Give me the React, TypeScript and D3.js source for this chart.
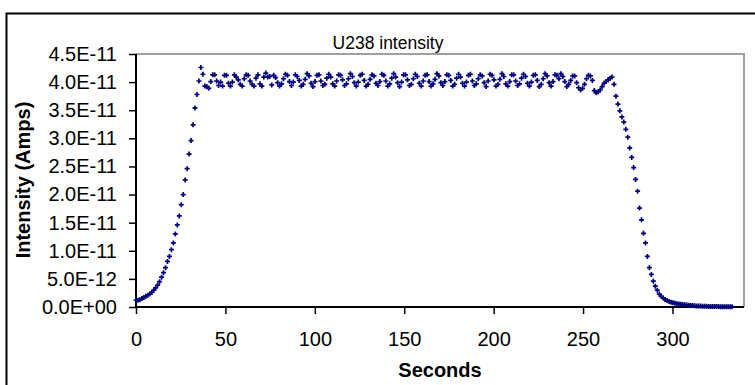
import React, { useEffect, useRef } from "react";
import * as d3 from "d3";

// U238 ion current, in units of 1E-12 A, one reading every SAMPLE_STEP seconds
const SAMPLE_STEP = 1.1;

const rampUp = [
  1.2, 1.2, 1.3, 1.5, 1.7, 1.9, 2.1, 2.3, 2.6, 3.0, 3.4, 3.9, 4.5, 5.3, 6.1,
  7.0, 8.1, 9.0, 10.2, 11.4, 13.0, 14.6, 16.2, 18.2, 20.0, 22.6, 24.6, 27.2,
  29.6, 32.4, 35.4, 37.8, 40.2, 42.6, 41.4,
];

const plateau = [
  39.3, 39.2, 38.9, 40.1, 41.3, 41.3, 40.2, 39.4, 40.0, 39.3, 41.2, 41.2, 39.8,
  39.3, 40.0, 41.3, 40.9, 40.4, 39.6, 39.3, 40.6, 41.3, 41.2, 40.2, 39.6, 39.3,
  40.7, 41.3, 39.7, 39.3, 40.9, 41.6, 40.9, 41.0, 39.5, 41.2,
  40.8, 39.9, 39.3, 39.7, 40.6, 41.4, 41.2, 40.1, 39.4, 40.0, 41.3,
  41.0, 40.3, 39.3, 39.6, 40.5, 41.5, 41.1, 39.8, 39.2, 40.1, 41.2,
  41.3, 40.2, 39.4, 39.6, 40.7, 41.4, 40.9, 39.7, 39.3, 40.2, 41.3,
  41.2, 40.4, 39.4, 39.7, 40.6, 41.5, 41.0, 39.9, 39.3, 40.0, 41.2,
  41.4, 40.3, 39.3, 39.6, 40.5, 41.3, 41.1, 39.8, 39.4, 40.1, 41.4,
  41.2, 40.2, 39.3, 39.7, 40.7, 41.5, 40.9, 39.9, 39.2, 40.0, 41.3,
  41.3, 40.4, 39.4, 39.6, 40.6, 41.4, 41.0, 39.8, 39.3, 40.2, 41.2,
  41.3, 40.1, 39.3, 39.7, 40.5, 41.5, 41.1, 39.9, 39.4, 40.1, 41.3,
  41.2, 40.3, 39.3, 39.6, 40.7, 41.4, 40.9, 39.8, 39.3, 40.0, 41.2,
  41.4, 40.2, 39.4, 39.7, 40.6, 41.3, 41.1, 39.9, 39.2, 40.2, 41.4,
  41.2, 40.4, 39.3, 39.6, 40.5, 41.5, 41.0, 39.7, 39.3, 40.1, 41.3,
  41.3, 40.2, 39.4, 39.7, 40.7, 41.4, 41.0, 39.8, 39.3, 40.0, 41.2,
  41.3, 40.3, 39.2, 39.6, 40.6, 41.5, 41.1, 39.9, 39.3, 40.1, 41.3,
  41.2, 40.6,
  41.5, 41.0, 40.1, 39.2, 39.6, 40.3, 41.1, 41.1, 39.9, 39.0, 38.6, 38.9, 39.6,
  40.6, 41.2, 41.1, 40.3, 38.5, 38.1, 38.3, 38.6, 39.2, 39.8, 40.1, 40.4, 40.7,
  40.9,
];

const rampDown = [
  39.6, 37.5, 36.1, 34.9, 33.8, 32.9, 31.6, 30.2, 28.3, 26.6, 24.8, 22.7, 20.6,
  17.6, 15.5, 13.1, 11.4, 9.0, 7.0, 5.8, 4.6, 3.7, 3.0, 2.3, 1.9, 1.6, 1.35,
  1.15, 1.0, 0.85, 0.75, 0.65, 0.58, 0.52, 0.47, 0.43, 0.39, 0.35, 0.31, 0.28,
  0.25, 0.22, 0.2, 0.18, 0.16, 0.14, 0.13, 0.12, 0.1, 0.09, 0.08, 0.08, 0.07,
  0.07, 0.06, 0.06, 0.05, 0.05, 0.05, 0.05, 0.05,
];

const xTicks = [0, 50, 100, 150, 200, 250, 300];
const yTickLabels = [
  "0.0E+00", "5.0E-12", "1.0E-11", "1.5E-11", "2.0E-11",
  "2.5E-11", "3.0E-11", "3.5E-11", "4.0E-11", "4.5E-11",
];

const App = () => {
  const ref = useRef<SVGSVGElement>(null);

  useEffect(() => {
    const width = 755;
    const height = 385;
    const plot = { left: 136, right: 744, top: 54, bottom: 307 };
    const font = "Arial, 'Liberation Sans', sans-serif";

    const values = [...rampUp, ...plateau, ...rampDown];
    const data = values.map((v, i) => ({ t: i * SAMPLE_STEP, v: v * 1e-12 }));
    const yTicks = yTickLabels.map((s) => +s);

    const x = d3.scaleLinear().domain([0, 340]).range([plot.left, plot.right]);
    const y = d3.scaleLinear().domain([0, 4.5e-11]).range([plot.bottom, plot.top]);

    const svg = d3.select(ref.current);
    svg.selectAll("*").remove();

    svg.append("rect").attr("width", width).attr("height", height).attr("fill", "#fff");

    // outer chart border (runs off the right and bottom edge)
    svg
      .append("rect")
      .attr("x", 6.5)
      .attr("y", 13.5)
      .attr("width", 800)
      .attr("height", 420)
      .attr("fill", "none")
      .attr("stroke", "#000")
      .attr("stroke-width", 2);

    // gray plot frame top and right
    svg
      .append("path")
      .attr("d", `M${plot.left},${plot.top}H${plot.right}V${plot.bottom}`)
      .attr("fill", "none")
      .attr("stroke", "#a0a0a0")
      .attr("stroke-width", 2);

    const yAxis = svg
      .append("g")
      .attr("transform", `translate(${plot.left},0)`)
      .call(
        d3
          .axisLeft(y)
          .tickValues(yTicks)
          .tickSize(7)
          .tickPadding(12)
          .tickFormat((d, i) => yTickLabels[i])
      );
    yAxis.select(".domain").attr("stroke-width", 2).attr("d", `M0,${plot.top}V${plot.bottom}`);
    yAxis.selectAll(".tick line").attr("stroke-width", 1.5);
    yAxis
      .selectAll(".tick text")
      .attr("font-family", font)
      .attr("font-size", 20)
      .attr("fill", "#000");

    const xAxis = svg
      .append("g")
      .attr("transform", `translate(0,${plot.bottom})`)
      .call(d3.axisBottom(x).tickValues(xTicks).tickSize(7).tickPadding(18));
    xAxis.select(".domain").attr("stroke-width", 2).attr("d", `M${plot.left},0H${plot.right}`);
    xAxis.selectAll(".tick line").attr("stroke-width", 1.5);
    xAxis
      .selectAll(".tick text")
      .attr("font-family", font)
      .attr("font-size", 20)
      .attr("fill", "#000");

    svg
      .append("g")
      .selectAll("path")
      .data(data)
      .join("path")
      .attr("transform", (d) => `translate(${x(d.t)},${y(d.v)})`)
      .attr("d", "M-2.5,0H2.5M0,-2.5V2.5")
      .attr("stroke", "#000080")
      .attr("stroke-width", 1.7);

    svg
      .append("text")
      .attr("x", 388)
      .attr("y", 49)
      .attr("text-anchor", "middle")
      .attr("font-family", font)
      .attr("font-size", 17.5)
      .text("U238 intensity");

    svg
      .append("text")
      .attr("x", 440)
      .attr("y", 377)
      .attr("text-anchor", "middle")
      .attr("font-family", font)
      .attr("font-weight", "bold")
      .attr("font-size", 20)
      .text("Seconds");

    svg
      .append("text")
      .attr("transform", "translate(30,180) rotate(-90)")
      .attr("text-anchor", "middle")
      .attr("font-family", font)
      .attr("font-weight", "bold")
      .attr("font-size", 20)
      .text("Intensity (Amps)");
  }, []);

  return (
    <div style={{ position: "absolute", left: 0, top: 0 }}>
      <svg ref={ref} width={755} height={385} style={{ display: "block" }}></svg>
    </div>
  );
};

export default App;
